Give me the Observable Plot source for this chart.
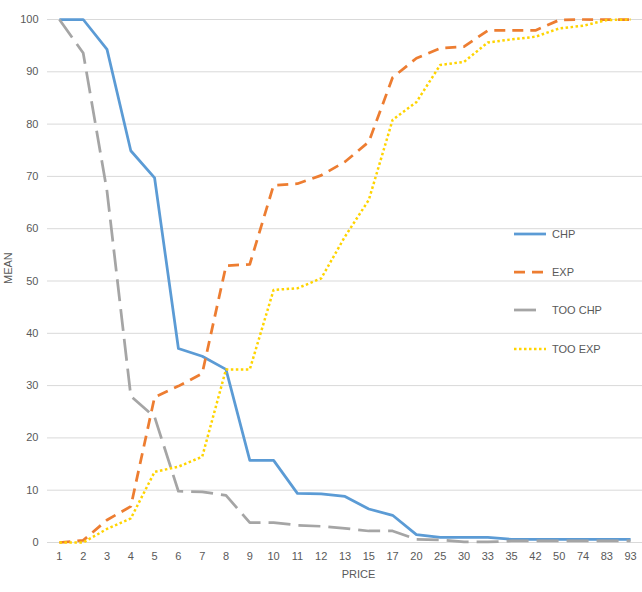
<!DOCTYPE html>
<html>
<head>
<meta charset="utf-8">
<script src="https://cdn.jsdelivr.net/npm/d3@7"></script>
<script src="https://cdn.jsdelivr.net/npm/@observablehq/plot@0.6"></script>
<style>
  html, body { margin: 0; padding: 0; background: #fff; }
  #wrap { position: relative; width: 642px; height: 592px; font-family: "Liberation Sans", Arial, sans-serif; }
  #legend { position: absolute; left: 512px; top: 0; font-size: 11px; color: #595959; }
  .item { position: absolute; left: 0; display: flex; align-items: center; white-space: nowrap; height: 14px; }
  .item svg { display: block; }
  .item span { margin-left: 4px; }
</style>
</head>
<body>
<div id="wrap"><div id="legend"></div></div>
<script>
const prices = ["1","2","3","4","5","6","7","8","9","10","11","12","13","15","17","20","25","30","33","35","42","50","74","83","93"];
const seriesNames = ["CHP", "EXP", "TOO CHP", "TOO EXP"];
const chp    = [100, 100, 94.3, 74.9, 69.7, 37.1, 35.6, 33.1, 15.7, 15.7, 9.4, 9.3, 8.8, 6.4, 5.2, 1.5, 1.0, 1.0, 1.0, 0.6, 0.6, 0.6, 0.6, 0.6, 0.6];
const exp    = [0, 0.4, 4.3, 6.9, 27.8, 29.9, 32.3, 52.9, 53.2, 68.3, 68.6, 70.2, 72.8, 76.6, 88.9, 92.6, 94.5, 94.8, 97.9, 97.9, 97.9, 99.9, 100, 100, 100];
const tooChp = [100, 93.6, 67.2, 28.0, 24.0, 9.8, 9.7, 9.0, 3.8, 3.8, 3.3, 3.1, 2.7, 2.2, 2.2, 0.6, 0.5, 0.1, 0.1, 0.3, 0.3, 0.3, 0.3, 0.3, 0.3];
const tooExp = [0, 0, 2.6, 4.6, 13.5, 14.5, 16.4, 33.1, 33.1, 48.3, 48.6, 50.5, 58.5, 65.5, 80.8, 84.2, 91.3, 91.9, 95.6, 96.2, 96.7, 98.3, 98.8, 99.9, 100];
const yTicks = [0, 10, 20, 30, 40, 50, 60, 70, 80, 90, 100];

const colors = {"CHP": "#5b9bd5", "EXP": "#ed7d31", "TOO CHP": "#a5a5a5", "TOO EXP": "#ffd400"};
const dashes = {"CHP": null, "EXP": "11,7", "TOO CHP": "22,8", "TOO EXP": "2.5,2.5"};
const widths = {"CHP": 2.75, "EXP": 2.75, "TOO CHP": 2.75, "TOO EXP": 2.5};

const seriesData = [chp, exp, tooChp, tooExp];
const table = [];
seriesNames.forEach((name, si) => {
  prices.forEach((p, i) => table.push({series: name, price: p, value: seriesData[si][i]}));
});

const lineMarks = seriesNames.map(name => Plot.line(table.filter(d => d.series === name), {
  x: "price", y: "value",
  stroke: colors[name], strokeWidth: widths[name],
  strokeDasharray: dashes[name],
  strokeLinecap: "butt",
  strokeLinejoin: "round"
}));

const chart = Plot.plot({
  width: 642,
  height: 592,
  marginLeft: 47,
  marginRight: 0,
  marginTop: 19,
  marginBottom: 50,
  style: {fontFamily: "Liberation Sans, Arial, sans-serif", fontSize: "11px", color: "#595959", background: "#fff"},
  x: {type: "point", domain: prices, padding: 0.5, round: false},
  y: {domain: [0, 100]},
  marks: [
    Plot.gridY(yTicks, {stroke: "#d9d9d9", strokeOpacity: 1, strokeWidth: 1}),
    Plot.axisY(yTicks, {tickSize: 0, tickPadding: 9, label: null, fill: "#595959"}),
    Plot.axisX({tickSize: 0, tickPadding: 10, label: null, fill: "#595959"}),
    ...lineMarks,
    Plot.text(["MEAN"], {frameAnchor: "left", dx: -39, dy: 3, rotate: -90, fill: "#595959", fontSize: 11}),
    Plot.text(["PRICE"], {frameAnchor: "bottom", dx: 13.5, dy: 35, fill: "#595959", fontSize: 11})
  ]
});
document.getElementById("wrap").prepend(chart);
chart.style.position = "absolute";
chart.style.left = "0";
chart.style.top = "0";

const legendTops = [234, 272, 310, 349];
const legend = document.getElementById("legend");
seriesNames.forEach((name, i) => {
  const item = document.createElement("div");
  item.className = "item";
  item.style.top = (legendTops[i] - 7) + "px";
  const svgNS = "http://www.w3.org/2000/svg";
  const svg = document.createElementNS(svgNS, "svg");
  svg.setAttribute("width", "36");
  svg.setAttribute("height", "14");
  const ln = document.createElementNS(svgNS, "line");
  ln.setAttribute("x1", "2"); ln.setAttribute("x2", name === "TOO CHP" ? "24" : "34");
  ln.setAttribute("y1", "7"); ln.setAttribute("y2", "7");
  ln.setAttribute("stroke", colors[name]);
  ln.setAttribute("stroke-width", widths[name]);
  if (dashes[name]) ln.setAttribute("stroke-dasharray", dashes[name]);
  svg.appendChild(ln);
  const label = document.createElement("span");
  label.textContent = name;
  item.appendChild(svg);
  item.appendChild(label);
  legend.appendChild(item);
});
</script>
</body>
</html>
